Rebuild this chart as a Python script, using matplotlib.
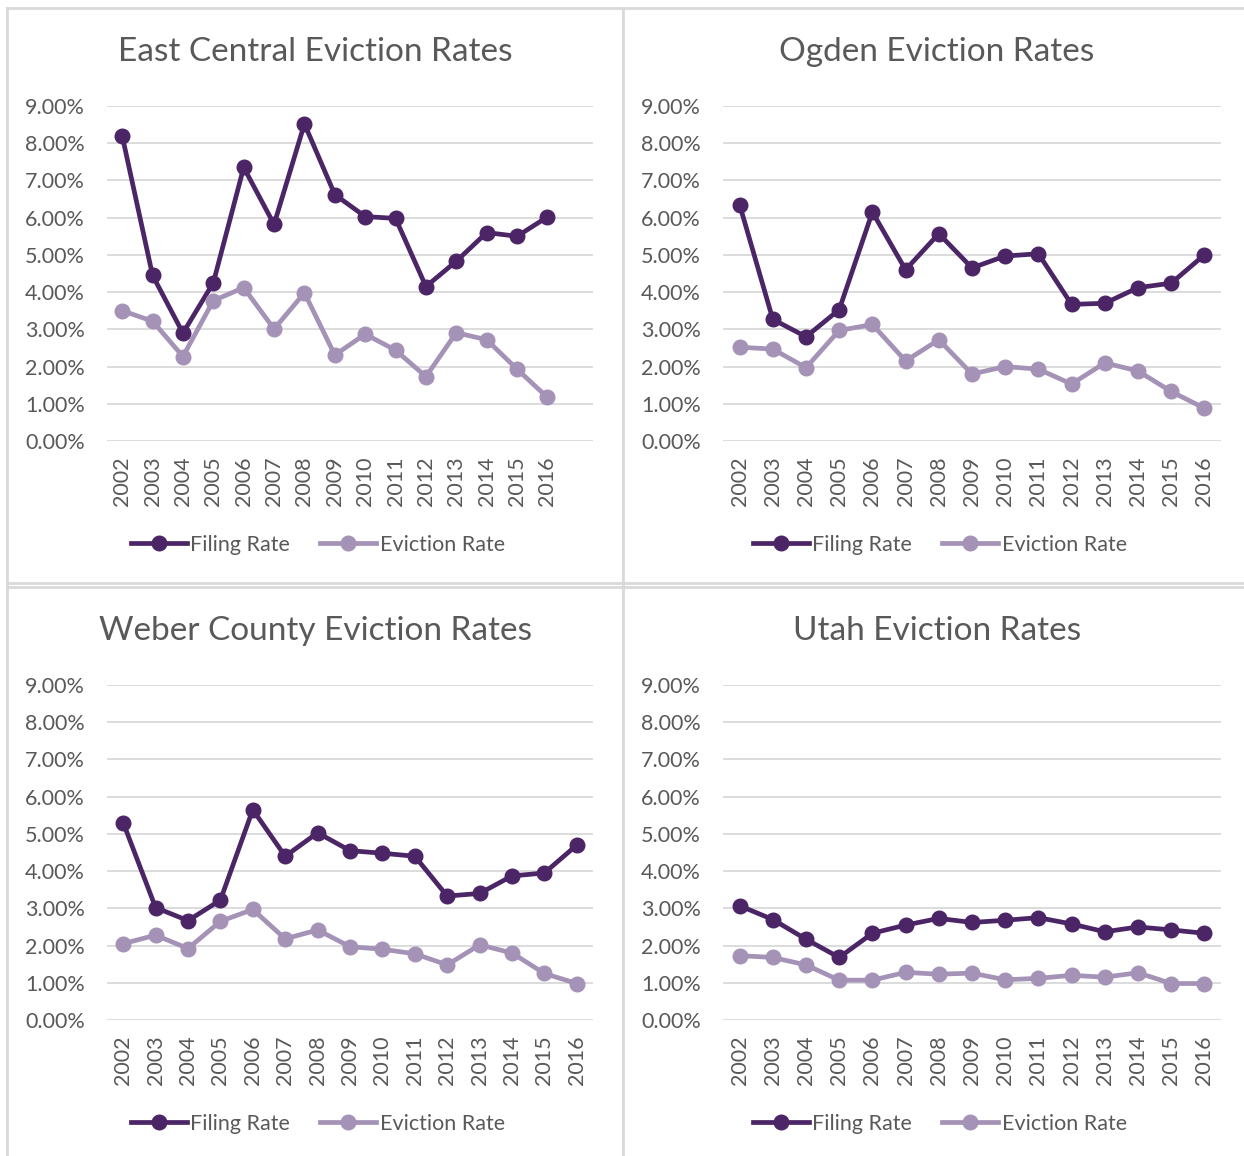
import matplotlib.pyplot as plt
from matplotlib.lines import Line2D
from matplotlib.ticker import FuncFormatter

plt.rcParams['font.family'] = ['Lato', 'DejaVu Sans']

years = [str(y) for y in range(2002, 2017)]

east_filing = [8.20, 4.45, 2.90, 4.25, 7.35, 5.82, 8.52, 6.62, 6.03, 5.98, 4.15, 4.83, 5.60, 5.50, 6.02]
east_eviction = [3.50, 3.22, 2.27, 3.77, 4.12, 3.01, 3.98, 2.31, 2.87, 2.44, 1.73, 2.91, 2.72, 1.93, 1.17]

ogden_filing = [6.35, 3.27, 2.80, 3.53, 6.15, 4.60, 5.57, 4.65, 4.97, 5.03, 3.67, 3.70, 4.12, 4.24, 5.00]
ogden_eviction = [2.52, 2.47, 1.97, 2.97, 3.13, 2.15, 2.72, 1.80, 2.00, 1.93, 1.53, 2.10, 1.88, 1.33, 0.88]

weber_filing = [5.30, 3.02, 2.67, 3.22, 5.65, 4.40, 5.03, 4.55, 4.48, 4.40, 3.33, 3.40, 3.87, 3.95, 4.70]
weber_eviction = [2.05, 2.28, 1.92, 2.65, 2.97, 2.18, 2.42, 1.97, 1.90, 1.78, 1.48, 2.02, 1.80, 1.25, 0.98]

utah_filing = [3.07, 2.70, 2.17, 1.68, 2.33, 2.55, 2.73, 2.62, 2.68, 2.75, 2.58, 2.37, 2.50, 2.42, 2.33]
utah_eviction = [1.73, 1.68, 1.48, 1.07, 1.07, 1.28, 1.23, 1.26, 1.08, 1.12, 1.20, 1.15, 1.27, 0.98, 0.98]

titles = ["East Central Eviction Rates", "Ogden Eviction Rates",
          "Weber County Eviction Rates", "Utah Eviction Rates"]

FILING_C = "#4b2566"
EVICT_C = "#a492b7"
GRID_C = "#d9d9d9"
TEXT_C = "#595959"

W, H = 1244, 1156
fig = plt.figure(figsize=(W / 100, H / 100), dpi=100)


def px_axes(x0, x1, ytop, ybot):
    return fig.add_axes([x0 / W, 1 - ybot / H, (x1 - x0) / W, (ybot - ytop) / H])


# (axes, filing, eviction, right xlim, title x, title y, legend centre x)
panels = [
    (px_axes(107, 593, 106, 441), east_filing, east_eviction, 15.5, 315, 52, 318),
    (px_axes(723, 1221, 106, 441), ogden_filing, ogden_eviction, 14.5, 937, 52, 940),
    (px_axes(107, 593, 685, 1020), weber_filing, weber_eviction, 14.5, 315, 631, 318),
    (px_axes(723, 1221, 685, 1020), utah_filing, utah_eviction, 14.5, 937, 631, 940),
]

for i, (ax, filing, eviction, xmax, tx, ty, lx) in enumerate(panels):
    x = list(range(len(years)))
    ax.plot(x, filing, color=FILING_C, lw=3.4, marker='o', ms=10.5,
            solid_capstyle='round', zorder=3, clip_on=False)
    ax.plot(x, eviction, color=EVICT_C, lw=3.4, marker='o', ms=10.5,
            solid_capstyle='round', zorder=3, clip_on=False)
    ax.set_xlim(-0.5, xmax)
    ax.set_ylim(0, 9)
    ax.set_yticks(range(0, 10))
    ax.yaxis.set_major_formatter(FuncFormatter(lambda v, p: f"{v:.2f}%"))
    ax.set_xticks(x)
    ax.set_xticklabels(years, rotation=90)
    ax.grid(axis='y', color=GRID_C, lw=1.3)
    ax.set_axisbelow(True)
    for s in ax.spines.values():
        s.set_visible(False)
    ax.tick_params(length=0, labelsize=15.5, colors=TEXT_C)
    ax.tick_params(axis='y', pad=16)
    ax.tick_params(axis='x', pad=11)
    fig.text(tx / W, 1 - ty / H, titles[i], ha='center', va='center',
             fontsize=24, color=TEXT_C)

    # legend below each chart
    handles = [Line2D([], [], color=FILING_C, lw=3.4, marker='o', ms=10.5),
               Line2D([], [], color=EVICT_C, lw=3.4, marker='o', ms=10.5)]
    fig.legend(handles, ["Filing Rate", "Eviction Rate"], loc='center',
               bbox_to_anchor=(lx / W, 1 - (ty + 493) / H), ncol=2, frameon=False,
               fontsize=15.5, labelcolor=TEXT_C, handlelength=2.6,
               handletextpad=0.15, columnspacing=1.4)

# panel borders
BORDER_C = "#d9d9d9"
border_lines = [
    ([7, 1244], [8, 8]),
    ([7, 7], [8, 1156]),
    ([7, 1244], [583, 583]),
    ([7, 1244], [587, 587]),
    ([623, 623], [8, 1156]),
]
for xs, ys in border_lines:
    fig.add_artist(Line2D([v / W for v in xs], [1 - v / H for v in ys],
                          color=BORDER_C, lw=2, transform=fig.transFigure))

fig.savefig("out.png", dpi=100, facecolor='white')
